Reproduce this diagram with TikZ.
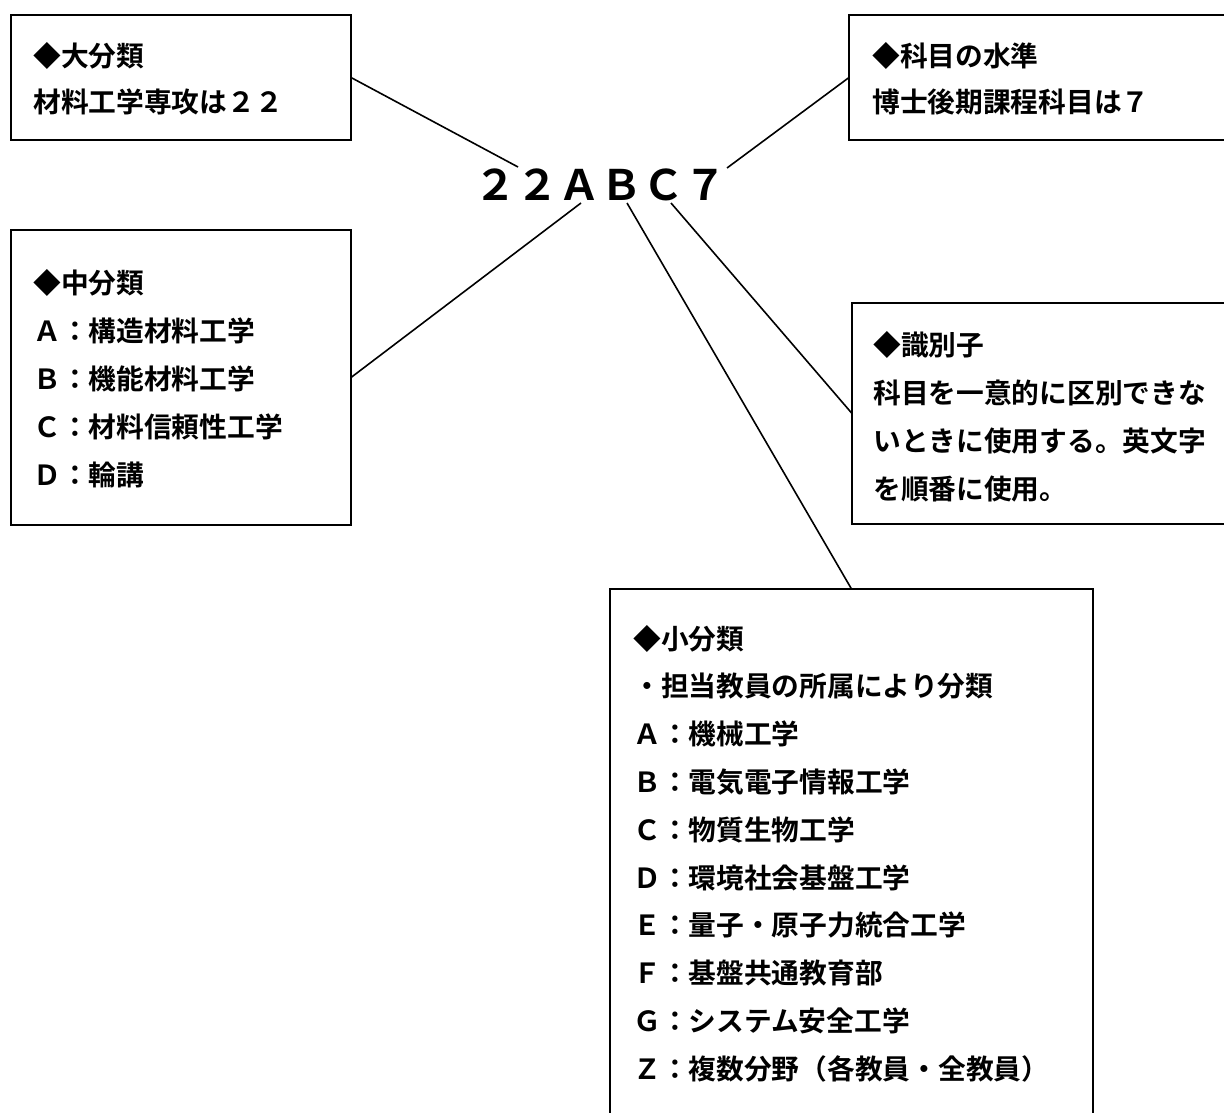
\documentclass[tikz,border=0pt]{standalone}
\usepackage{fontspec}
\newfontfamily\jp{Noto Sans CJK JP}[BoldFont={Noto Sans CJK JP Bold}]
\begin{document}
\begin{tikzpicture}[x=0.75pt,y=-0.75pt,
  box/.style={draw,line width=1.3pt,inner sep=0pt,outer sep=0pt,rectangle},
  txt/.style={anchor=base west,inner sep=0pt,font=\jp\bfseries\fontsize{20.8pt}{24pt}\selectfont},
  conn/.style={line width=1.2pt}]
\useasboundingbox (0,0) rectangle (1224,1113);
\fill[white] (0,0) rectangle (1224,1113);
% boxes
\node[box,minimum width=255pt,minimum height=93.75pt] (b1) at (181,77.5) {};
\node[box,minimum width=293.25pt,minimum height=93.75pt] (b2) at (1044.5,77.5) {};
\node[box,minimum width=255pt,minimum height=221.25pt] (b3) at (181,377.5) {};
\node[box,minimum width=291pt,minimum height=165.75pt] (b4) at (1046,413.5) {};
\node[box,minimum width=362.25pt,minimum height=405.75pt] (b5) at (851.5,859.5) {};
% code
\node[anchor=base,inner sep=0pt,font=\jp\bfseries\fontsize{31.5pt}{36pt}\selectfont] (code) at (600,200) {２２ＡＢＣ７};
\coordinate (k1) at (518,167);
\coordinate (k2) at (727,168);
\coordinate (kA) at (581,203);
\coordinate (kB) at (627,203);
\coordinate (kC) at (671,203);
% texts
\foreach \t [count=\i] in {◆大分類,材料工学専攻は２２}
  \node[txt] (t1\i) at (33,{67+46*(\i-1)}) {\t};
\foreach \t [count=\i] in {◆科目の水準,博士後期課程科目は７}
  \node[txt] (t2\i) at (872,{67+46*(\i-1)}) {\t};
\foreach \t [count=\i] in {◆中分類,Ａ：構造材料工学,Ｂ：機能材料工学,Ｃ：材料信頼性工学,Ｄ：輪講}
  \node[txt] (t3\i) at (33,{293+48*(\i-1)}) {\t};
\foreach \t [count=\i] in {◆識別子,科目を一意的に区別できな,いときに使用する。英文字,を順番に使用。}
  \node[txt] (t4\i) at (873,{355+48*(\i-1)}) {\t};
\foreach \t [count=\i] in {◆小分類,・担当教員の所属により分類,Ａ：機械工学,Ｂ：電気電子情報工学,Ｃ：物質生物工学,Ｄ：環境社会基盤工学,Ｅ：量子・原子力統合工学,Ｆ：基盤共通教育部,Ｇ：システム安全工学,Ｚ：複数分野（各教員・全教員）}
  \node[txt] (t5\i) at (633,{649+47.8*(\i-1)}) {\t};
% connectors
\draw[conn] (b1.east) -- (k1);
\draw[conn] (b2.west) -- (k2);
\draw[conn] (b3.east) -- (kA);
\draw[conn] (b5.north) -- (kB);
\draw[conn] (b4.west) -- (kC);
\end{tikzpicture}
\end{document}
